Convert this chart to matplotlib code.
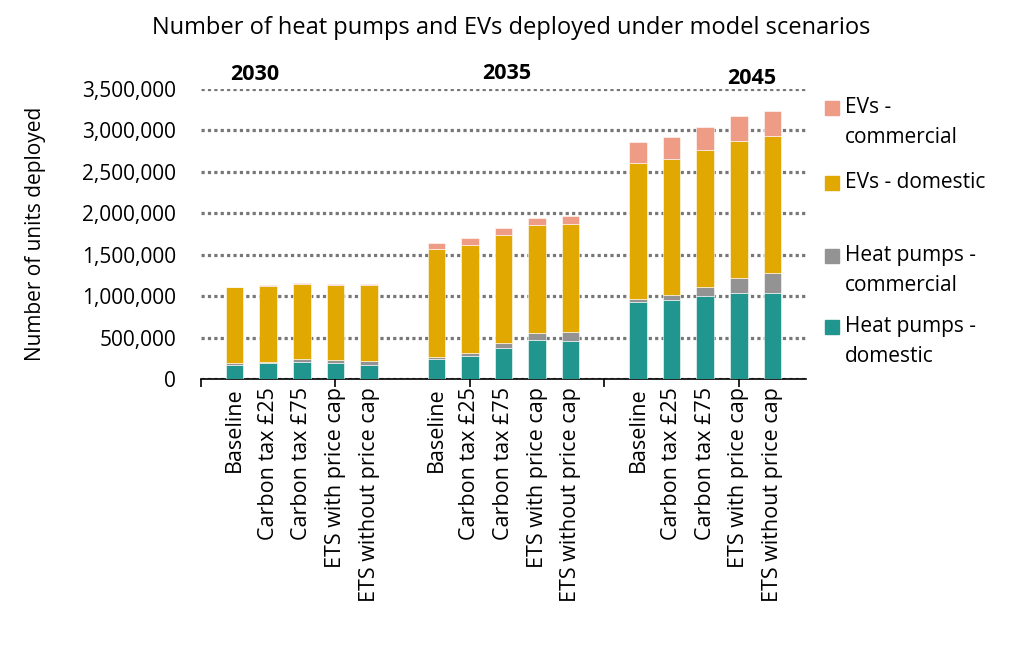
import numpy as np
import matplotlib.pyplot as plt
from matplotlib.patches import Rectangle
from matplotlib.ticker import FuncFormatter, MultipleLocator

plt.rcParams['font.family'] = ['Open Sans', 'DejaVu Sans']

# scenarios and years
scenarios = ["Baseline", "Carbon tax £25", "Carbon tax £75",
             "ETS with price cap", "ETS without price cap"]
years = ["2030", "2035", "2045"]

# values per year, ordered as scenarios above
hp_domestic = [175000, 190000, 210000, 190000, 175000,
               240000, 280000, 378000, 467000, 463000,
               935000, 955000, 1000000, 1040000, 1040000]
hp_commercial = [15000, 20000, 30000, 40000, 45000,
                 30000, 35000, 60000, 88000, 104000,
                 30000, 55000, 110000, 180000, 240000]
ev_domestic = [915000, 910000, 905000, 910000, 920000,
               1295000, 1300000, 1300000, 1300000, 1304000,
               1645000, 1645000, 1657000, 1650000, 1657000]
ev_commercial = [8000, 14000, 15000, 12000, 12000,
                 80000, 88000, 88000, 92000, 100000,
                 250000, 270000, 277000, 300000, 300000]

series_names = ["Heat pumps -\ndomestic", "Heat pumps -\ncommercial",
                "EVs - domestic", "EVs -\ncommercial"]
colors = ["#21968f", "#939393", "#e0a800", "#ee9c85"]

# ---- positions: 5 bars per year with one empty slot between years
pos = []
for g in range(len(years)):
    for i in range(len(scenarios)):
        pos.append(g * 6 + i)
pos = np.array(pos)

fig = plt.figure(figsize=(10.12, 6.51), dpi=100)
ax = fig.add_axes([201 / 1012, 1 - 379 / 651, (806 - 201) / 1012, (379 - 89) / 651])

data = [hp_domestic, hp_commercial, ev_domestic, ev_commercial]
bottom = np.zeros(len(pos))
for vals, col in zip(data, colors):
    vals = np.array(vals)
    ax.bar(pos, vals, width=0.52, bottom=bottom, color=col,
           edgecolor="white", linewidth=0.4, zorder=3)
    bottom += vals

ax.set_xlim(-1, 17)
ax.set_ylim(0, 3500000)
ax.yaxis.set_major_locator(MultipleLocator(500000))
ax.yaxis.set_major_formatter(FuncFormatter(lambda v, p: f"{int(v):,}"))
ax.grid(axis="y", linestyle=(0, (1, 1)), linewidth=2.3, color="#777777", zorder=0)
ax.set_axisbelow(True)

for s in ["top", "right", "left"]:
    ax.spines[s].set_visible(False)
ax.spines["bottom"].set_linewidth(1.2)

ax.tick_params(axis="y", length=0, labelsize=15, pad=18)
ax.xaxis.remove_overlapping_locs = False
ax.set_xticks([-1, 3, 7, 11, 15])
ax.set_xticklabels([])
ax.tick_params(axis="x", which="major", length=6, width=1.2, direction="out")
ax.set_xticks(pos, minor=True)
ax.set_xticklabels(scenarios * len(years), minor=True, rotation=90,
                   fontsize=15.5)
ax.tick_params(axis="x", which="minor", length=0, pad=6)

ax.set_ylabel("Number of units deployed", fontsize=15, labelpad=26)

# year labels above groups
year_x = [0.6, 8.1, 15.4]
year_y = [3680000, 3690000, 3630000]
for yr, xx, yy in zip(years, year_x, year_y):
    ax.text(xx, yy, yr, ha="center", va="center", fontsize=15.5,
            fontweight="bold", clip_on=False)

fig.text(0.505, 1 - 28 / 651, "Number of heat pumps and EVs deployed under model scenarios",
         ha="center", va="center", fontsize=17)

# legend drawn at the right
leg_y = [327, 256, 183, 108]
for name, col, yy in zip(series_names, colors, leg_y):
    fig.add_artist(Rectangle((825 / 1012, 1 - (yy + 7) / 651), 14 / 1012, 14 / 651,
                             transform=fig.transFigure, color=col))
    fig.text(845 / 1012, 1 - (yy - 11) / 651, name, ha="left", va="top",
             fontsize=15, linespacing=1.55)

fig.savefig("out.png", dpi=100)
